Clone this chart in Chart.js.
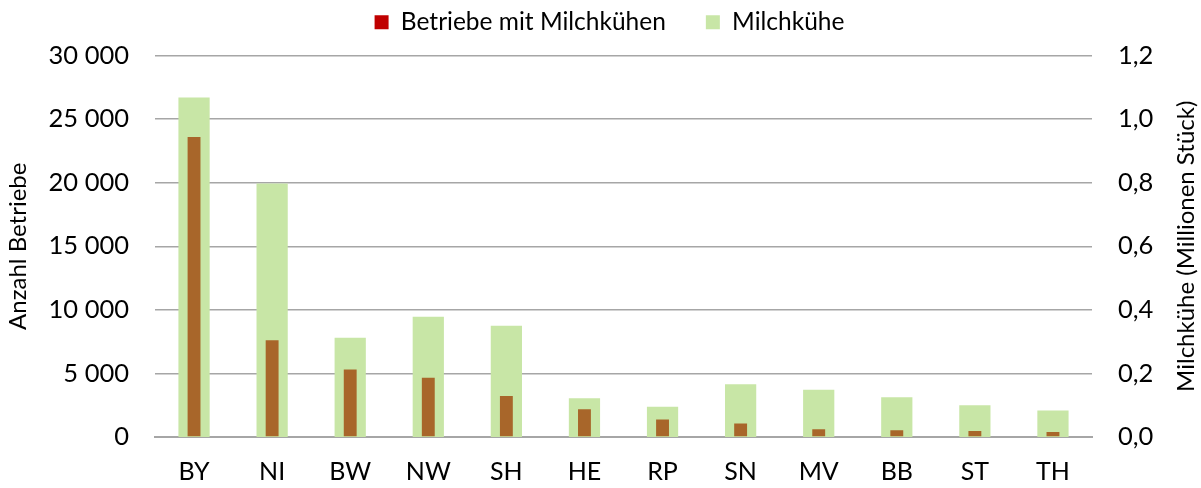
<!DOCTYPE html>
<html>
<head>
<meta charset="utf-8">
<script src="https://cdn.jsdelivr.net/npm/chart.js@4"></script>
<style>
  html, body { margin: 0; padding: 0; background: #fff; }
  #wrap { width: 1201px; height: 488px; position: relative; }
</style>
</head>
<body>
<div id="wrap"><canvas id="c"></canvas></div>
<script>
const laender = ['BY', 'NI', 'BW', 'NW', 'SH', 'HE', 'RP', 'SN', 'MV', 'BB', 'ST', 'TH'];
const betriebe = [23600, 7600, 5300, 4650, 3230, 2180, 1370, 1060, 610, 530, 470, 400];
const milchkuehe = [1.068, 0.797, 0.312, 0.378, 0.350, 0.122, 0.095, 0.166, 0.149, 0.125, 0.100, 0.083];

const FONT = 'Lato, "Open Sans", sans-serif';
const GRID = '#a6a6a6';
const rightTitle = 'Milchkühe (Millionen Stück)';

// Chart.js turns a right-side title the other way, so this one is drawn here
const rightTitlePlugin = {
  id: 'rightTitle',
  afterLayout(chart) {
    // legend width counts a trailing gap, nudge it back to the middle, and lift it a bit
    chart.legend.left += 9;
    chart.legend.right += 9;
    chart.legend.top -= 11;
    chart.legend.bottom -= 11;
  },
  afterDraw(chart) {
    const ctx = chart.ctx;
    const a = chart.chartArea;
    ctx.save();
    ctx.translate(1186, (a.top + a.bottom) / 2);
    ctx.rotate(-Math.PI / 2);
    ctx.fillStyle = '#000';
    ctx.font = '24px ' + FONT;
    ctx.textAlign = 'center';
    ctx.textBaseline = 'middle';
    ctx.fillText(rightTitle, 0, 0);
    ctx.restore();
  }
};

new Chart(document.getElementById('c'), {
  type: 'bar',
  data: {
    labels: laender,
    datasets: [
      {
        label: 'Betriebe mit Milchkühen',
        data: betriebe,
        yAxisID: 'y',
        backgroundColor: '#a8662a',
        legendColor: '#c00000',
        grouped: false,
        order: 0,
        barPercentage: 0.165,
        categoryPercentage: 1
      },
      {
        label: 'Milchkühe',
        data: milchkuehe,
        yAxisID: 'y1',
        backgroundColor: '#c8e6a6',
        legendColor: '#c8e6a6',
        grouped: false,
        order: 1,
        barPercentage: 0.4,
        categoryPercentage: 1
      }
    ]
  },
  options: {
    responsive: true,
    maintainAspectRatio: false,
    animation: false,
    layout: { padding: { left: 4, right: 4, top: -19, bottom: 0 } },
    scales: {
      x: {
        grid: { display: false, drawTicks: false },
        border: { color: GRID, width: 2 },
        ticks: { color: '#000', font: { family: FONT, size: 25 }, padding: 20 },
        afterFit: (s) => { s.height = 51; }
      },
      y: {
        position: 'left',
        min: 0, max: 30000,
        ticks: {
          stepSize: 5000,
          color: '#000',
          padding: 26,
          font: { family: FONT, size: 25.5 },
          callback: (v) => v.toLocaleString('de-DE').replace('.', ' ')
        },
        grid: { color: GRID, lineWidth: 1.5, drawTicks: false },
        border: { display: false },
        title: { display: true, text: 'Anzahl Betriebe', color: '#000', font: { family: FONT, size: 24 }, padding: 0 },
        afterFit: (s) => { s.width = 151; }
      },
      y1: {
        position: 'right',
        min: 0, max: 1.2,
        ticks: {
          stepSize: 0.2,
          color: '#000',
          padding: 26,
          font: { family: FONT, size: 25.5 },
          callback: (v) => v.toFixed(1).replace('.', ',')
        },
        grid: { display: false, drawTicks: false },
        border: { display: false },
        afterFit: (s) => { s.width = 105; }
      }
    },
    plugins: {
      legend: {
        position: 'top',
        labels: {
          color: '#000',
          font: { family: FONT, size: 24.5 },
          boxWidth: 14,
          boxHeight: 14,
          padding: 40,
          generateLabels: (chart) => {
            return chart.data.datasets.map((ds, i) => ({
              text: ds.label,
              fillStyle: ds.legendColor,
              strokeStyle: ds.legendColor,
              lineWidth: 0,
              datasetIndex: i,
              hidden: !chart.isDatasetVisible(i)
            }));
          }
        }
      },
      tooltip: { enabled: false }
    }
  },
  plugins: [rightTitlePlugin]
});
</script>
</body>
</html>
